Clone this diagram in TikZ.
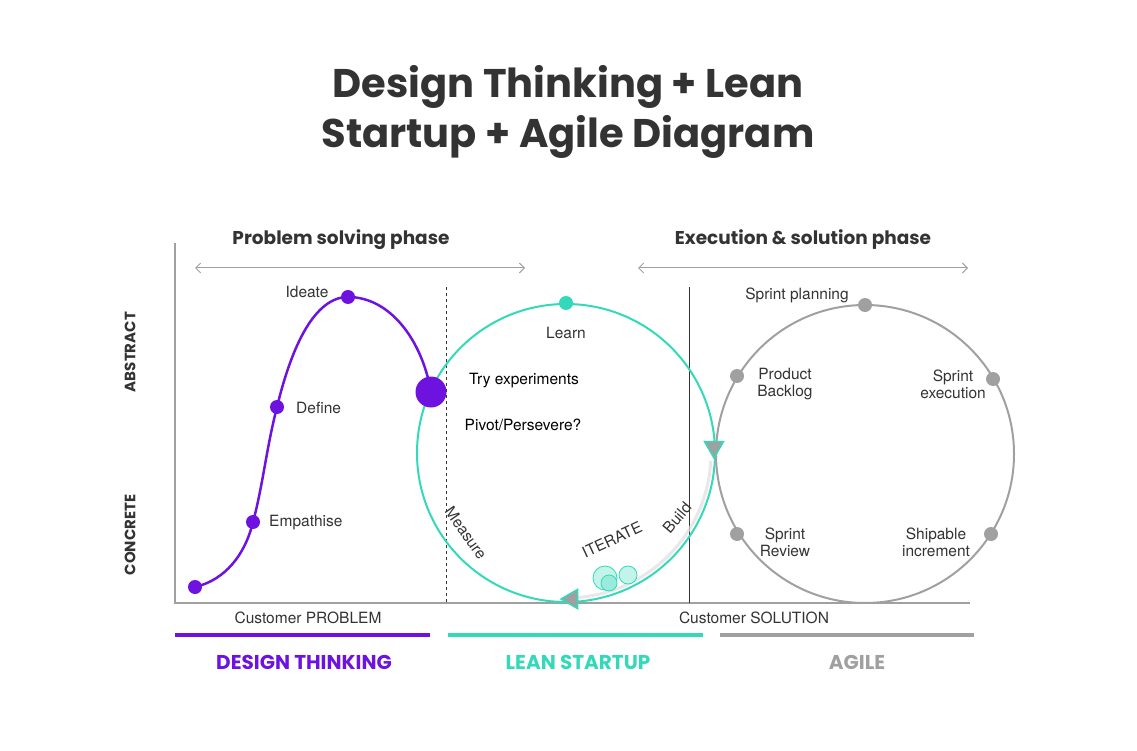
\documentclass[tikz,border=0pt]{standalone}
\usepackage{fontspec}
\setmainfont{TeX Gyre Heros}
\newfontfamily\headf{Poppins}
\usetikzlibrary{arrows.meta,shapes.geometric}
\definecolor{pur}{HTML}{6E12E0}
\definecolor{teal2}{HTML}{33D9B8}
\definecolor{gr}{HTML}{A0A0A0}
\definecolor{dk}{HTML}{333333}
\begin{document}
\begin{tikzpicture}[x=1pt,y=-1pt,
  lbl/.style={font=\fontsize{15.5}{17}\selectfont, text=dk, align=center, inner sep=0},
  hd/.style={font=\headf\bfseries\fontsize{18.5}{20}\selectfont, text=dk, inner sep=0},
  ft/.style={font=\headf\bfseries\fontsize{20}{22}\selectfont, inner sep=0},
  pdot/.style={circle, fill=pur, minimum size=14, inner sep=0},
  gdot/.style={circle, fill=gr, minimum size=14, inner sep=0}]
\useasboundingbox (0,0) rectangle (1137,751);
\node[font=\headf\bfseries\fontsize{40}{50}\selectfont, text=dk, align=center] (title) at (568,112) {Design Thinking + Lean\\Startup + Agile Diagram};
% axes
\coordinate (ay) at (175,243); \coordinate (o) at (175,603); \coordinate (ax) at (970,603);
\draw[gr, line width=1.2] (ay) -- (o) -- (ax);
\node[font=\headf\bfseries\fontsize{15}{17}\selectfont, text=dk, rotate=90] (abs) at (130,352) {ABSTRACT};
\node[font=\headf\bfseries\fontsize{15}{17}\selectfont, text=dk, rotate=90] (con) at (130,535) {CONCRETE};
\node[hd] (psp) at (341,240) {Problem solving phase};
\node[hd] (esp) at (803,240) {Execution \& solution phase};
\coordinate (a1) at (195,268); \coordinate (a2) at (525,268);
\coordinate (a3) at (638,268); \coordinate (a4) at (968,268);
\draw[gr, line width=1, {Straight Barb[length=5]}-{Straight Barb[length=5]}] (a1) -- (a2);
\draw[gr, line width=1, {Straight Barb[length=5]}-{Straight Barb[length=5]}] (a3) -- (a4);
% dividers
\coordinate (d1) at (446,287); \coordinate (d2) at (446,603);
\draw[dk, dashed, line width=0.8] (d1) -- (d2);
\coordinate (s1) at (689,287); \coordinate (s2) at (689,603);
\draw[dk, line width=0.8] (s1) -- (s2);
% teal circle
\node[circle, draw=teal2, line width=2, minimum size=298, inner sep=0] (lc) at (566,453) {};
\draw[gr!35, line width=3, opacity=0.7] plot[domain=3:86, samples=40] ({566+145*cos(\x)},{453+145*sin(\x)});
\node[circle, fill=teal2, minimum size=14, inner sep=0] (learn) at (566,303) {};
% gray circle
\node[circle, draw=gr, line width=2, minimum size=298, inner sep=0] (gc) at (865,454) {};
\node[gdot] (g1) at (865,305) {};
\node[gdot] (g2) at (737,376) {};
\node[gdot] (g3) at (993,379) {};
\node[gdot] (g4) at (737,534) {};
\node[gdot] (g5) at (991,534) {};
% purple curve
\node[pdot] (p1) at (195,587) {};
\node[pdot] (p2) at (253,522) {};
\node[pdot] (p3) at (277,407) {};
\node[pdot] (p4) at (348,297) {};
\node[circle, fill=pur, minimum size=31, inner sep=0] (p5) at (431,392) {};
\draw[pur, line width=2.5] (p1.center) .. controls (225,580) and (245,555) .. (p2.center)
  .. controls (263,485) and (266,450) .. (p3.center)
  .. controls (292,345) and (315,297) .. (p4.center)
  .. controls (390,297) and (422,340) .. (p5.center);
% triangles
\node[regular polygon, regular polygon sides=3, shape border rotate=180, fill=gr, draw=teal2, line width=1.5, minimum size=22, inner sep=0] (t1) at (714,447) {};
\node[regular polygon, regular polygon sides=3, shape border rotate=90, fill=gr, draw=teal2, line width=1.5, minimum size=22, inner sep=0] (t2) at (572,599) {};
% bubbles
\node[circle, fill=teal2!30, draw=teal2, line width=0.8, minimum size=24, inner sep=0] (b1) at (605,578) {};
\node[circle, fill=teal2!50, draw=teal2, line width=0.8, minimum size=16, inner sep=0] (b2) at (609,583) {};
\node[circle, fill=teal2!30, draw=teal2, line width=0.8, minimum size=18, inner sep=0] (b3) at (628,575) {};
% labels
\node[lbl] (lp1) at (307,292) {Ideate};
\node[lbl, anchor=west] (lp2) at (296,408) {Define};
\node[lbl, anchor=west] (lp3) at (269,523) {Empathise};
\node[lbl] (ll) at (566,333) {Learn};
\node[lbl, text=black] (lt) at (524,381) {Try experiments};
\node[lbl, text=black] (lpv) at (523,425) {Pivot/Persevere?};
\node[lbl, rotate=-55] (lm) at (466,533) {Measure};
\node[lbl, rotate=50] (lb) at (677,518) {Build};
\node[lbl, rotate=25] (li) at (612,540) {ITERATE};
\node[lbl] (lg1) at (797,295) {Sprint planning};
\node[lbl] (lg2) at (785,384) {Product\\Backlog};
\node[lbl] (lg3) at (953,384) {Sprint\\execution};
\node[lbl] (lg4) at (785,542) {Sprint\\Review};
\node[lbl] (lg5) at (936,542) {Shipable\\increment};
\node[lbl] (cp) at (308,618) {Customer PROBLEM};
\node[lbl] (cs) at (754,618) {Customer SOLUTION};
% bars
\coordinate (b1a) at (175,635); \coordinate (b1b) at (430,635);
\coordinate (b2a) at (448,635); \coordinate (b2b) at (703,635);
\coordinate (b3a) at (720,635); \coordinate (b3b) at (974,635);
\draw[pur, line width=3.5] (b1a) -- (b1b);
\draw[teal2, line width=3.5] (b2a) -- (b2b);
\draw[gr, line width=3.5] (b3a) -- (b3b);
\node[ft, text=pur] (f1) at (304,662) {DESIGN THINKING};
\node[ft, text=teal2] (f2) at (578,662) {LEAN STARTUP};
\node[ft, text=gr] (f3) at (857,662) {AGILE};
\end{tikzpicture}
\end{document}
